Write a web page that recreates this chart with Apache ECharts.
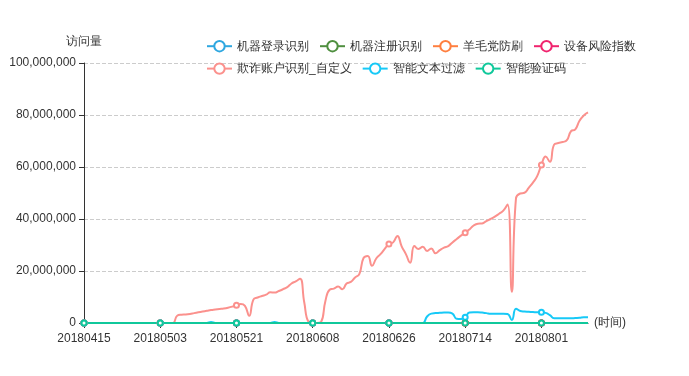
<!DOCTYPE html>
<html><head><meta charset="utf-8">
<script src="https://cdn.jsdelivr.net/npm/echarts@6/dist/echarts.min.js"></script>
<style>html,body{margin:0;padding:0;background:#fff}#c{width:689px;height:376px}</style>
</head><body><div id="c"></div>
<script>
const categories = [
'20180415','20180416','20180417','20180418','20180419','20180420','20180421','20180422','20180423','20180424','20180425','20180426','20180427','20180428','20180429','20180430',
'20180501','20180502','20180503','20180504','20180505','20180506','20180507','20180508','20180509','20180510','20180511','20180512','20180513','20180514','20180515','20180516','20180517','20180518','20180519','20180520','20180521','20180522','20180523','20180524','20180525','20180526','20180527','20180528','20180529','20180530','20180531',
'20180601','20180602','20180603','20180604','20180605','20180606','20180607','20180608','20180609','20180610','20180611','20180612','20180613','20180614','20180615','20180616','20180617','20180618','20180619','20180620','20180621','20180622','20180623','20180624','20180625','20180626','20180627','20180628','20180629','20180630',
'20180701','20180702','20180703','20180704','20180705','20180706','20180707','20180708','20180709','20180710','20180711','20180712','20180713','20180714','20180715','20180716','20180717','20180718','20180719','20180720','20180721','20180722','20180723','20180724','20180725','20180726','20180727','20180728','20180729','20180730','20180731',
'20180801','20180802','20180803','20180804','20180805','20180806','20180807','20180808','20180809','20180810','20180811','20180812'
];
const seriesNames = ['机器登录识别','机器注册识别','羊毛党防刷','设备风险指数','欺诈账户识别_自定义','智能文本过滤','智能验证码'];
const seriesColors = ['#2ea7e0','#4f8f3f','#ff7f3f','#f0246e','#fb918d','#17c9f7','#10c89b'];
// values in millions
const flatZero = [0,0,0,0,0,0,0,0,0,0,0,0,0,0,0,0,0,0,0,0,0,0,0,0,0,0,0,0,0,0,0,0,0,0,0,0,0,0,0,0,0,0,0,0,0,0,0,0,0,0,0,0,0,0,0,0,0,0,0,0,0,0,0,0,0,0,0,0,0,0,0,0,0,0,0,0,0,0,0,0,0,0,0,0,0,0,0,0,0,0,0,0,0,0,0,0,0,0,0,0,0,0,0,0,0,0,0,0,0,0,0,0,0,0,0,0,0,0,0,0];
const fraudValues = [
0,0,0,0,0,0,0,0,0,0,0,0,0,0,0,0,0,0,0,0,0,
0,2.8,3.2,3.3,3.5,3.8,4.1,4.4,4.7,5.0,5.2,5.4,5.6,5.9,6.3,6.8,7.3,6.6,2.8,9.0,
9.8,10.4,10.9,11.8,11.7,12.3,13.0,13.8,15.2,16.0,17.0,8.0,0.5,0,0,0.5,8.5,12.8,13.2,14.0,
13.0,15.2,15.8,17.5,18.8,25.0,25.8,22.0,24.8,26.5,28.5,30.4,31.0,33.5,29.5,26.5,23.2,29.6,28.5,29.3,
27.7,28.7,26.8,28.0,29.0,29.6,31.0,32.3,33.6,34.7,36.0,37.5,38.2,38.3,39.2,40.0,40.9,42.0,43.2,45.6,
12.0,48.0,49.8,50.1,52.0,54.0,56.5,60.8,64.0,62.0,68.6,69.2,69.6,70.3,73.8,74.5,77.8,79.8,81.0
];
const textFilterValues = [
0,0,0,0,0,0,0,0,0,0,0,0,0,0,0,0,0,0,0,0,0,0,0,0,0,0,0,0,0,0,0.4,0,0,0,0,0,0,0,0,0,
0,0,0,0,0,0.4,0,0,0,0,0,0,0,0,0,0,0,0,0,0,0,0,0,0,0,0,0,0,0,0,0,0,0,0,0,0,0,0,0,0,
0,2.5,3.6,3.8,3.9,4.0,4.0,3.6,1.6,1.5,2.2,4.0,4.1,4.1,4.0,3.8,3.6,3.6,3.6,3.6,
3.5,1.2,5.5,4.6,4.4,4.3,4.2,4.1,4.1,3.9,3.0,1.8,1.8,1.8,1.8,1.8,1.9,2.0,2.2,2.2
];
const yTicks = [0, 20000000, 40000000, 60000000, 80000000, 100000000];

const seriesValues = [flatZero, flatZero, flatZero, flatZero, fraudValues, textFilterValues, flatZero];

const chart = echarts.init(document.getElementById('c'), null, {renderer:'canvas'});
chart.setOption({
  animation: false,
  color: seriesColors,
  legend: {
    left: 201, top: 35, itemWidth: 25, itemHeight: 13, itemGap: 10,
    textStyle: {fontSize: 12, color: '#333'},
    data: seriesNames
  },
  grid: {left: 84, right: 101, top: 63, bottom: 53, containLabel: false},
  xAxis: {
    type: 'category', boundaryGap: false, data: categories,
    name: '(时间)', nameGap: 6, nameTextStyle: {color: '#333', fontSize: 12},
    axisLine: {lineStyle: {color: '#333'}},
    axisTick: {interval: 17, lineStyle: {color: '#333'}},
    axisLabel: {interval: 17, color: '#333', fontSize: 12, margin: 10},
    splitLine: {show: false}
  },
  yAxis: {
    type: 'value', min: yTicks[0], max: yTicks[yTicks.length-1], interval: 20000000,
    name: '访问量', nameGap: 15, nameTextStyle: {color: '#333', fontSize: 12},
    axisLine: {show: true, lineStyle: {color: '#333'}},
    axisTick: {show: true, lineStyle: {color: '#333'}},
    axisLabel: {color: '#333', fontSize: 12, formatter: v => v.toLocaleString('en-US')},
    splitLine: {show: true, lineStyle: {type: 'dashed', color: '#ccc'}}
  },
  series: seriesNames.map((n, i) => ({
    name: n, type: 'line', smooth: true, symbol: 'emptyCircle', symbolSize: 5,
    lineStyle: {width: 2}, itemStyle: {color: seriesColors[i]},
    data: seriesValues[i].map(v => Math.round(v * 1000000))
  }))
});
</script></body></html>
